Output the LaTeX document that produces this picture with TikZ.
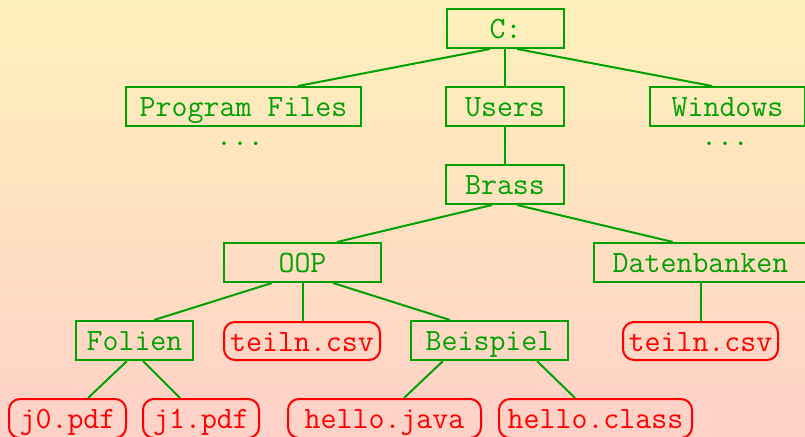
\documentclass[tikz,border=0pt]{standalone}
\begin{document}
\definecolor{bgtop}{RGB}{255,241,187}
\definecolor{bgbot}{RGB}{255,209,200}
\definecolor{dirgreen}{RGB}{0,160,0}
\definecolor{filered}{RGB}{255,0,0}
\begin{tikzpicture}[x=1pt,y=-1pt,
  base/.style={inner sep=0pt, minimum height=39pt, text height=20pt, text depth=0pt,
    line width=2pt, font=\fontsize{31}{36}\selectfont\ttfamily},
  dirbox/.style={base, draw=dirgreen, text=dirgreen},
  filebox/.style={base, draw=filered, text=filered, rounded corners=11pt},
  conn/.style={draw=dirgreen, line width=2pt},
  dots/.style={inner sep=0pt, text=dirgreen, font=\fontsize{31}{31}\selectfont\ttfamily}]
\useasboundingbox (0,0) rectangle (805,436);
\clip (0,0) rectangle (805,436);
\shade[top color=bgtop, bottom color=bgbot] (0,0) rectangle (805,436);
% directories
\node[dirbox, minimum width=117pt] (C) at (505.5,28.5) {C:};
\node[dirbox, minimum width=235pt] (PF) at (243.5,106.5) {Program Files};
\node[dirbox, minimum width=118pt] (U) at (505,106.5) {Users};
\node[dirbox, minimum width=155pt] (W) at (727.5,106.5) {Windows};
\node[dots] (PFd) at (240,144) {...};
\node[dots] (Wd) at (725,144) {...};
\node[dirbox, minimum width=118pt] (B) at (505,184.5) {Brass};
\node[dirbox, minimum width=157pt] (O) at (302.5,262.5) {OOP};
\node[dirbox, minimum width=213pt] (D) at (700.5,262.5) {Datenbanken};
\node[dirbox, minimum width=117pt] (F) at (134.5,340.5) {Folien};
\node[dirbox, minimum width=157pt] (Bs) at (489.5,340.5) {Beispiel};
% files
\node[filebox, minimum width=156pt, minimum height=38pt] (T1) at (302,341) {teiln.csv};
\node[filebox, minimum width=155pt, minimum height=38pt] (T2) at (700.5,341) {teiln.csv};
\node[filebox, minimum width=117pt] (J0) at (67.5,418.5) {j0.pdf};
\node[filebox, minimum width=116pt] (J1) at (201,418.5) {j1.pdf};
\node[filebox, minimum width=193pt] (HJ) at (384.5,418.5) {hello.java};
\node[filebox, minimum width=193pt] (HC) at (595.5,418.5) {hello.class};
% connectors
\draw[conn] ([xshift=-15.5pt]C.south) -- ([xshift=54.5pt]PF.north);
\draw[conn] ([xshift=-0.5pt]C.south) -- (U.north);
\draw[conn] ([xshift=11.5pt]C.south) -- ([xshift=-15.5pt]W.north);
\draw[conn] (U.south) -- (B.north);
\draw[conn] ([xshift=-13pt]B.south) -- ([xshift=34.5pt]O.north);
\draw[conn] ([xshift=12pt]B.south) -- ([xshift=-27.5pt]D.north);
\draw[conn] ([xshift=-30.5pt]O.south) -- ([xshift=19.5pt]F.north);
\draw[conn] (O.south) -- (O.south |- T1.north);
\draw[conn] ([xshift=30.5pt]O.south) -- ([xshift=-39.5pt]Bs.north);
\draw[conn] (D.south) -- (T2.north);
\draw[conn] ([xshift=-7.5pt]F.south) -- ([xshift=20.5pt]J0.north);
\draw[conn] ([xshift=8.5pt]F.south) -- ([xshift=-21pt]J1.north);
\draw[conn] ([xshift=-46.5pt]Bs.south) -- ([xshift=19.5pt]HJ.north);
\draw[conn] ([xshift=47.5pt]Bs.south) -- ([xshift=-20.5pt]HC.north);
\end{tikzpicture}
\end{document}
